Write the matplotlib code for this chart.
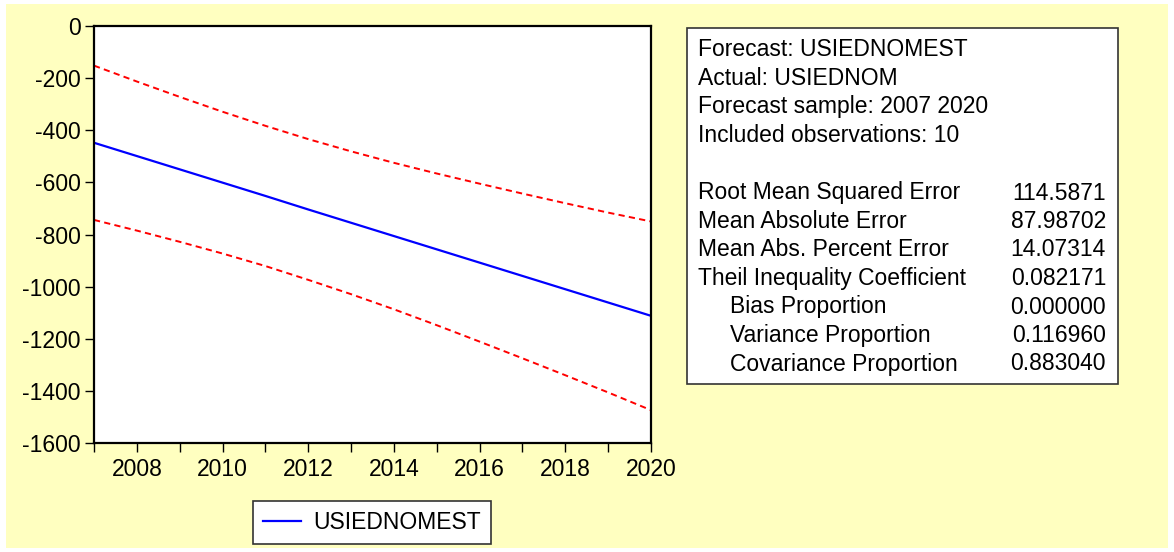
import matplotlib
matplotlib.use("Agg")
import matplotlib.pyplot as plt
from matplotlib.patches import Rectangle

plt.rcParams['font.family'] = ['Liberation Sans', 'DejaVu Sans']

# ---- data ----
years = list(range(2007, 2021))
forecast = [-448, -499, -550, -601, -652, -704, -755, -806, -857, -908, -959, -1010, -1061, -1112]
upper = [-152, -213, -272, -329, -383, -434, -481, -525, -566, -605, -643, -680, -716, -750]
lower = [-744, -785, -828, -873, -921, -974, -1029, -1087, -1148, -1211, -1275, -1340, -1406, -1474]
yticks = [0, -200, -400, -600, -800, -1000, -1200, -1400, -1600]
xticks_major = [2008, 2010, 2012, 2014, 2016, 2018, 2020]
legend_label = "USIEDNOMEST"

stat_header = ["Forecast: USIEDNOMEST", "Actual: USIEDNOM",
               "Forecast sample: 2007 2020", "Included observations: 10"]
stat_names = ["Root Mean Squared Error", "Mean Absolute Error", "Mean Abs. Percent Error",
              "Theil Inequality Coefficient", "Bias Proportion", "Variance Proportion",
              "Covariance Proportion"]
stat_values = ["114.5871", "87.98702", "14.07314", "0.082171", "0.000000", "0.116960", "0.883040"]
stat_indent = [False, False, False, False, True, True, True]

# ---- layout ----
W, H = 1174, 552
FS = 16.5
fig = plt.figure(figsize=(W / 100, H / 100), dpi=100, facecolor='white')

def fx(x):
    return x / W

def fy(y):
    return 1 - y / H

YELLOW = '#FFFFC0'
fig.patches.append(Rectangle((fx(6), fy(548)), fx(1168 - 6), (548 - 4) / H,
                             transform=fig.transFigure, facecolor=YELLOW,
                             edgecolor='none', zorder=-10))

ax = fig.add_axes([fx(94), fy(443), fx(651 - 94), (443 - 26) / H])
ax.set_zorder(5)
ax.set_facecolor('white')

ax.plot(years, upper, color='#FF0000', lw=1.4, linestyle=(0, (3.2, 2.2)))
ax.plot(years, lower, color='#FF0000', lw=1.4, linestyle=(0, (3.2, 2.2)))
line, = ax.plot(years, forecast, color='#0000FF', lw=1.6, label=legend_label)

ax.set_xlim(2007, 2020)
ax.set_ylim(-1600, 0)
ax.set_yticks(yticks)
ax.set_yticklabels([str(v) for v in yticks])
ax.set_xticks(xticks_major)
ax.set_xticks(years, minor=True)
ax.set_xticklabels([str(v) for v in xticks_major])

ax.tick_params(axis='both', which='both', direction='out', length=6.5, width=1.0,
               colors='black', labelsize=FS)
ax.tick_params(axis='y', pad=3)
ax.tick_params(axis='x', pad=4)
for s in ax.spines.values():
    s.set_linewidth(1.6)
    s.set_color('black')

leg = ax.legend(handles=[line], loc='center',
                bbox_to_anchor=(fx(372), fy(522.5)), bbox_transform=fig.transFigure,
                fontsize=FS, frameon=True, fancybox=False, framealpha=1,
                edgecolor='#333333', facecolor='white', borderpad=0.45,
                handlelength=1.66, handletextpad=0.52, borderaxespad=0)
leg.get_frame().set_linewidth(1.2)

# ---- statistics box ----
fig.patches.append(Rectangle((fx(686.5), fy(384)), fx(1117.5 - 686.5), (384 - 28) / H,
                             transform=fig.transFigure, facecolor='white',
                             edgecolor='#333333', linewidth=1.2, zorder=1))

y0 = 50
step = 28.5
for i, t in enumerate(stat_header):
    fig.text(fx(698), fy(y0 + i * step), t, fontsize=FS, va='center', ha='left', zorder=2)

y1 = 193
for i, (n, v, ind) in enumerate(zip(stat_names, stat_values, stat_indent)):
    y = y1 + i * step
    fig.text(fx(730 if ind else 698), fy(y), n, fontsize=FS, va='center', ha='left', zorder=2)
    fig.text(fx(1106), fy(y), v, fontsize=FS, va='center', ha='right', zorder=2)

fig.savefig('out.png', dpi=100, facecolor='white')
